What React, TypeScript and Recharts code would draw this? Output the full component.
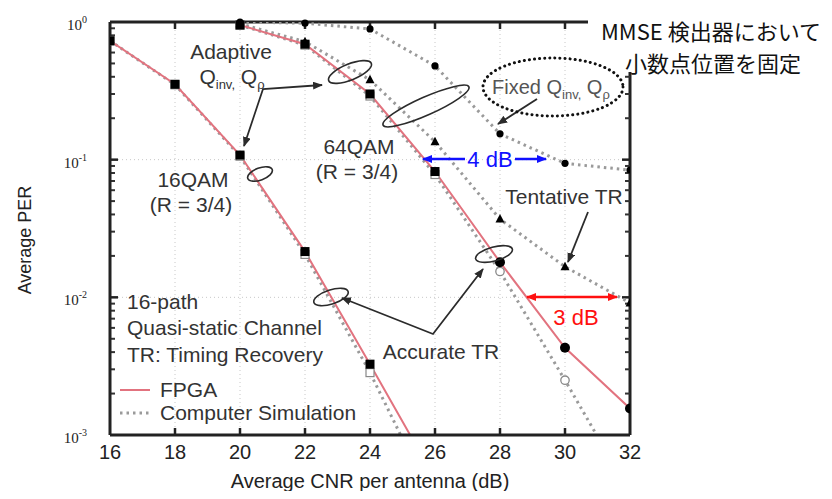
import React from "react";
import { LineChart, Line, XAxis, YAxis, CartesianGrid, ReferenceLine } from "recharts";

// ---------- data ----------
const xTicks = [16, 18, 20, 22, 24, 26, 28, 30, 32];
const yTicks = [0.001, 0.01, 0.1, 1];
const minorFactors = [2, 3, 4, 5, 6, 7, 8, 9];

const cnr16 = [16, 18, 20, 22, 24, 26];
const per16Fpga = [0.73, 0.353, 0.108, 0.0215, 0.00327, 0.00048];
const per16Sim = [0.73, 0.35, 0.106, 0.0205, 0.00284, 0.00031];

const cnr64 = [20, 22, 24, 26, 28, 30, 32];
const per64Fpga = [0.95, 0.69, 0.3, 0.082, 0.018, 0.0043, 0.00156];
const per64Sim = [0.95, 0.68, 0.29, 0.078, 0.0154, 0.0025, 0.00038];
const per64Tentative = [0.97, 0.72, 0.38, 0.135, 0.037, 0.0167, 0.0091];
const per64Fixed = [1.0, 0.98, 0.89, 0.48, 0.154, 0.094, 0.084];

const Y_MIN = 0.001, Y_MAX = 1;
const rows = (xs: number[], ys: number[]) => xs.map((x, i) => ({ cnr: x, per: ys[i] }));
const markRows = (xs: number[], ys: number[]) => rows(xs, ys).filter((r) => r.per >= Y_MIN);

// ---------- layout ----------
const CHART_W = 816;
const CHART_H = 483;
const Y_AXIS_W = 102;
const X_AXIS_H = 56;
const MARGIN = { top: 14, right: 194, bottom: 0, left: 0 };
const OFF = 8;
const PL = OFF + MARGIN.left + Y_AXIS_W;
const PT = OFF + MARGIN.top;
const PW = CHART_W - MARGIN.left - MARGIN.right - Y_AXIS_W;
const PH = CHART_H - MARGIN.top - MARGIN.bottom - X_AXIS_H;
const X_MIN = 16, X_MAX = 32;
const dx = (pxLen: number) => (pxLen / PW) * (X_MAX - X_MIN);
const yMul = (pxLen: number) => Math.pow(10, (pxLen / PH) * 3);

const PINK = "#e2737f";
const GRAY = "#9a9a9a";
const INK = "#2b2b2b";
const AX = "#222";
const FONT = "'Liberation Sans', Arial, Helvetica, sans-serif";
const FS = 21;

const FilledSquare = (p: any) => (
  <rect key={p.index} x={p.cx - 4.5} y={p.cy - 4.5} width={9} height={9} fill="#000" />
);
const OpenSquare = (p: any) => (
  <rect key={p.index} x={p.cx - 4} y={p.cy - 4} width={8} height={8} fill="#fff" stroke="#888" strokeWidth={1.2} />
);
const Fpga64Dot = (p: any) =>
  p.payload.cnr <= 26 ? (
    <rect key={p.index} x={p.cx - 4.5} y={p.cy - 4.5} width={9} height={9} fill="#000" />
  ) : (
    <circle key={p.index} cx={p.cx} cy={p.cy} r={5} fill="#000" />
  );
const Sim64Dot = (p: any) =>
  p.payload.cnr <= 26 ? (
    <rect key={p.index} x={p.cx - 4} y={p.cy - 4} width={8} height={8} fill="#fff" stroke="#888" strokeWidth={1.2} />
  ) : (
    <circle key={p.index} cx={p.cx} cy={p.cy} r={4.2} fill="#fff" stroke="#888" strokeWidth={1.3} />
  );
const TriangleDot = (p: any) => (
  <path key={p.index} d={`M${p.cx},${p.cy - 5} L${p.cx + 4.5},${p.cy + 3.5} L${p.cx - 4.5},${p.cy + 3.5} Z`} fill="#000" />
);
const SmallDot = (p: any) => <circle key={p.index} cx={p.cx} cy={p.cy} r={3.6} fill="#000" />;

const YTick = (p: any) => {
  const e = Math.round(Math.log10(p.payload.value));
  return (
    <text x={p.x - 15} y={p.y + 8} textAnchor="end" fontFamily="'Liberation Serif', 'Times New Roman', serif" fontSize={15} fill="#222">
      10
      <tspan dy={-7} fontSize={10}>
        {e}
      </tspan>
    </text>
  );
};
const XTick = (p: any) => (
  <text x={p.x} y={PT - OFF + PH + 24} textAnchor="middle" fontFamily={FONT} fontSize={20} fill="#222">
    {p.payload.value}
  </text>
);

const Arrow = ({ pts, start, end, color = INK, w = 1.8, id = "ah" }: any) => (
  <polyline
    points={pts.map((q: number[]) => q.join(",")).join(" ")}
    fill="none"
    stroke={color}
    strokeWidth={w}
    markerStart={start ? `url(#${id})` : undefined}
    markerEnd={end ? `url(#${id})` : undefined}
  />
);

const Overlay = () => {
  const T = { fontFamily: FONT, fontSize: FS, fill: "#333" } as any;
  return (
    <svg width={824} height={491} style={{ position: "absolute", left: -OFF, top: -OFF, pointerEvents: "none" }}>
      <defs>
        {[
          ["ah", INK],
          ["ahb", "#1010ff"],
          ["ahr", "#ff1010"],
        ].map(([id, c]) => (
          <marker key={id} id={id} viewBox="0 0 10 8" refX={9} refY={4} markerWidth={10} markerHeight={8} markerUnits="userSpaceOnUse" orient="auto-start-reverse">
            <path d="M0,0 L10,4 L0,8 z" fill={c} />
          </marker>
        ))}
      </defs>
      <text x={PL + PW / 2} y={488} textAnchor="middle" fontFamily={FONT} fontSize={20} fill="#222">
        Average CNR per antenna (dB)
      </text>
      <text x={0} y={0} transform="translate(31,240) rotate(-90)" textAnchor="middle" fontFamily={FONT} fontSize={18} fill="#222">
        Average PER
      </text>
      <text {...T} x={127} y={309}>16-path</text>
      <text {...T} x={127} y={335}>Quasi-static Channel</text>
      <text {...T} x={127} y={362}>TR: Timing Recovery</text>
      <line x1={120} x2={150} y1={390} y2={390} stroke={PINK} strokeWidth={2} />
      <text {...T} x={160} y={397}>FPGA</text>
      <line x1={120} x2={152} y1={413} y2={413} stroke={GRAY} strokeWidth={3} strokeDasharray="2.5 4" />
      <text {...T} x={160} y={420}>Computer Simulation</text>
      <text {...T} x={231} y={59} textAnchor="middle">Adaptive</text>
      <text {...T} x={232} y={84} textAnchor="middle">
        Q<tspan dy={5} fontSize={13}>inv,</tspan>
        <tspan dy={-5}> Q</tspan>
        <tspan dy={5} fontSize={13}>ρ</tspan>
      </text>
      <text {...T} x={193} y={187} textAnchor="middle">16QAM</text>
      <text {...T} x={191} y={212} textAnchor="middle">(R = 3/4)</text>
      <text {...T} x={359} y={154} textAnchor="middle">64QAM</text>
      <text {...T} x={357} y={179} textAnchor="middle">(R = 3/4)</text>
      <text {...T} x={564} y={204} textAnchor="middle">Tentative TR</text>
      <text {...T} x={441} y={359} textAnchor="middle">Accurate TR</text>
      <ellipse cx={260} cy={174} rx={13} ry={6} transform="rotate(-20 260 174)" fill="none" stroke={INK} strokeWidth={1.6} />
      <ellipse cx={331} cy={297} rx={18} ry={7} transform="rotate(-18 331 297)" fill="none" stroke={INK} strokeWidth={1.6} />
      <ellipse cx={350} cy={72} rx={23} ry={8} transform="rotate(-22 350 72)" fill="none" stroke={INK} strokeWidth={1.6} />
      <ellipse cx={426} cy={106} rx={47} ry={9} transform="rotate(-24 426 106)" fill="none" stroke={INK} strokeWidth={1.6} />
      <ellipse cx={494} cy={254} rx={19} ry={7} transform="rotate(-15 494 254)" fill="none" stroke={INK} strokeWidth={1.6} />
      <Arrow pts={[[244, 146], [263, 89], [322, 85]]} start end />
      <Arrow pts={[[342, 298], [433, 334], [483, 269]]} start end />
      <Arrow pts={[[588, 212], [568, 262]]} end />
      <Arrow pts={[[537, 99], [498, 124]]} end />
      <Arrow pts={[[423, 159], [465, 159]]} start color="#1010ff" w={2.5} id="ahb" />
      <Arrow pts={[[515, 159], [546, 159]]} end color="#1010ff" w={2.5} id="ahb" />
      <text x={490} y={167} textAnchor="middle" fontFamily={FONT} fontSize={22} fill="#1010ff">4 dB</text>
      <Arrow pts={[[527, 297], [617, 297]]} start end color="#ff1010" w={2.5} id="ahr" />
      <text x={576} y={325} textAnchor="middle" fontFamily={FONT} fontSize={22} fill="#ff1010">3 dB</text>
      <rect x={588} y={0} width={236} height={72} fill="#fff" />
      <ellipse cx={553} cy={87} rx={70} ry={29} fill="none" stroke="#111" strokeWidth={3} strokeDasharray="0.1 5" strokeLinecap="round" />
      <text x={492} y={94} fontFamily={FONT} fontSize={20} fill="#555">
        Fixed Q<tspan dy={5} fontSize={13}>inv,</tspan>
        <tspan dy={-5}> Q</tspan>
        <tspan dy={5} fontSize={13}>ρ</tspan>
      </text>
      <text x={711} y={40} textAnchor="middle" fontFamily="'Noto Sans CJK JP', sans-serif" fontSize={22} fill="#111">
        MMSE 検出器において
      </text>
      <text x={713} y={72} textAnchor="middle" fontFamily="'Noto Sans CJK JP', sans-serif" fontSize={22} fill="#111">
        小数点位置を固定
      </text>
    </svg>
  );
};

const dotted = { stroke: GRAY, strokeWidth: 3, strokeDasharray: "2.5 4", dot: false, activeDot: false, isAnimationActive: false } as any;
const solid = { stroke: PINK, strokeWidth: 2, dot: false, activeDot: false, isAnimationActive: false } as any;
const marks = { yAxisId: "mk", stroke: "none", activeDot: false, isAnimationActive: false } as any;

export default function App() {
  const minorVals: number[] = [];
  yTicks.slice(0, -1).forEach((d) => minorFactors.forEach((m) => minorVals.push(d * m)));
  return (
    <div style={{ position: "relative", width: CHART_W, height: CHART_H, background: "#fff" }}>
      <LineChart width={CHART_W} height={CHART_H} margin={MARGIN}>
        <CartesianGrid stroke="#c8c8c8" strokeDasharray="1 3" />
        <XAxis
          dataKey="cnr"
          type="number"
          domain={[X_MIN, X_MAX]}
          ticks={xTicks}
          height={X_AXIS_H}
          tickLine={false}
          axisLine={{ stroke: AX, strokeWidth: 3 }}
          tick={XTick}
          allowDataOverflow
        />
        <YAxis
          type="number"
          scale="log"
          domain={[Y_MIN, Y_MAX]}
          ticks={yTicks}
          width={Y_AXIS_W}
          tickLine={false}
          axisLine={{ stroke: AX, strokeWidth: 3 }}
          tick={YTick}
          allowDataOverflow
        />
        <YAxis yAxisId="mk" hide type="number" scale="log" domain={[Y_MIN, Y_MAX]} />
        <ReferenceLine y={Y_MAX} stroke={AX} strokeWidth={3} />
        <ReferenceLine x={X_MAX} stroke={AX} strokeWidth={3} />
        {xTicks.slice(1, -1).map((x) => (
          <ReferenceLine key={"xb" + x} segment={[{ x, y: Y_MIN }, { x, y: Y_MIN * yMul(7) }]} stroke={AX} strokeWidth={2.5} />
        ))}
        {xTicks.slice(1, -1).map((x) => (
          <ReferenceLine key={"xt" + x} segment={[{ x, y: Y_MAX }, { x, y: Y_MAX / yMul(7) }]} stroke={AX} strokeWidth={2.5} />
        ))}
        {yTicks.slice(1, -1).map((v) => (
          <ReferenceLine key={"yl" + v} segment={[{ x: X_MIN, y: v }, { x: X_MIN + dx(8), y: v }]} stroke={AX} strokeWidth={2.5} />
        ))}
        {yTicks.slice(1, -1).map((v) => (
          <ReferenceLine key={"yr" + v} segment={[{ x: X_MAX, y: v }, { x: X_MAX - dx(8), y: v }]} stroke={AX} strokeWidth={2.5} />
        ))}
        {minorVals.map((v) => (
          <ReferenceLine key={"ml" + v} segment={[{ x: X_MIN, y: v }, { x: X_MIN + dx(5), y: v }]} stroke="#333" strokeWidth={2} />
        ))}
        {minorVals.map((v) => (
          <ReferenceLine key={"mr" + v} segment={[{ x: X_MAX, y: v }, { x: X_MAX - dx(5), y: v }]} stroke="#333" strokeWidth={2} />
        ))}
        <Line data={rows(cnr16, per16Sim)} dataKey="per" {...dotted} />
        <Line data={rows(cnr64, per64Sim)} dataKey="per" {...dotted} />
        <Line data={rows(cnr64, per64Tentative)} dataKey="per" {...dotted} />
        <Line data={rows(cnr64, per64Fixed)} dataKey="per" {...dotted} />
        <Line data={rows(cnr16, per16Fpga)} dataKey="per" {...solid} />
        <Line data={rows(cnr64, per64Fpga)} dataKey="per" {...solid} />
        <Line data={markRows(cnr16, per16Sim)} dataKey="per" {...marks} dot={OpenSquare} />
        <Line data={markRows(cnr64, per64Sim)} dataKey="per" {...marks} dot={Sim64Dot} />
        <Line data={markRows(cnr64, per64Tentative)} dataKey="per" {...marks} dot={TriangleDot} />
        <Line data={markRows(cnr64, per64Fixed)} dataKey="per" {...marks} dot={SmallDot} />
        <Line data={markRows(cnr16, per16Fpga)} dataKey="per" {...marks} dot={FilledSquare} />
        <Line data={markRows(cnr64, per64Fpga)} dataKey="per" {...marks} dot={Fpga64Dot} />
      </LineChart>
      <Overlay />
    </div>
  );
}
